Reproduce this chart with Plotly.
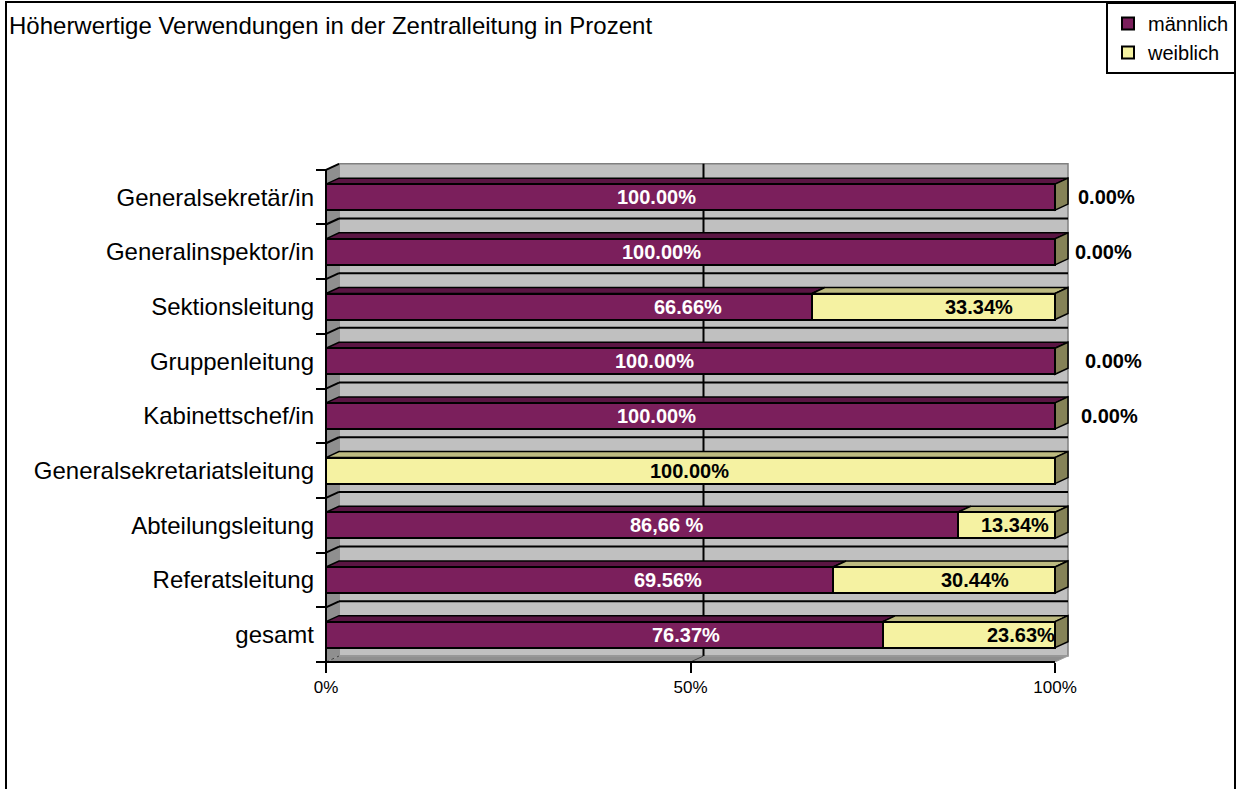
import plotly.graph_objects as go

# ---------------- data ----------------
categories = [
    "Generalsekretär/in",
    "Generalinspektor/in",
    "Sektionsleitung",
    "Gruppenleitung",
    "Kabinettschef/in",
    "Generalsekretariatsleitung",
    "Abteilungsleitung",
    "Referatsleitung",
    "gesamt",
]
maennlich = [100.00, 100.00, 66.66, 100.00, 100.00, 0.00, 86.66, 69.56, 76.37]
weiblich = [0.00, 0.00, 33.34, 0.00, 0.00, 100.00, 13.34, 30.44, 23.63]
male_labels = ["100.00%", "100.00%", "66.66%", "100.00%", "100.00%", "", "86,66 %", "69.56%", "76.37%"]
female_labels = ["0.00%", "0.00%", "33.34%", "0.00%", "0.00%", "100.00%", "13.34%", "30.44%", "23.63%"]
x_tick_values = [0, 50, 100]
x_tick_text = ["0%", "50%", "100%"]

# label anchor positions (percent axis), as placed in the original chart
male_label_pos = [45.4, 46.0, 49.7, 45.1, 45.4, None, 46.8, 46.9, 49.4]
female_label_pos = [107.1, 106.6, 89.6, 108.0, 107.5, 49.9, 94.5, 89.0, 95.3]

# ---------------- geometry / style ----------------
W, H = 1237, 789
PL, PR, PT, PB = 300, 1150, 150, 680   # plot area in pixels
X0 = 326          # pixel of 0 %
PX = 7.29         # pixels per percent
Y_FLOOR = 662     # pixel of front floor edge
PY = 54.69        # pixels per category
DX = 13 / PX      # depth offset (x) in data units
DY = 6 / PY       # depth offset (y) in data units
BAR_W = 26 / PY

FONT = "Liberation Sans, Arial, sans-serif"
MALE = "#7B1F5C"
MALE_TOP = "#5A1543"
FEMALE = "#F5F2A2"
FEMALE_TOP = "#BDBA80"
SIDE = "#858257"
WALL = "#C0C0C0"
SIDEWALL = "#8F8F8F"

n = len(categories)
ypos = [n - 1 - k for k in range(n)]
y_lo, y_hi = -0.5, n - 0.5
boundaries = [y_lo + i for i in range(n + 1)]
x_range = [(PL - X0) / PX, (PR - X0) / PX]
y_range = [(Y_FLOOR - PB) / PY - 0.5, (Y_FLOOR - PT) / PY - 0.5]

fig = go.Figure()
fig.add_trace(go.Bar(
    name="männlich", y=ypos, x=maennlich, orientation="h", width=BAR_W,
    marker=dict(color=MALE, line=dict(color="black", width=2)), hoverinfo="skip",
))
fig.add_trace(go.Bar(
    name="weiblich", y=ypos, x=weiblich, orientation="h", width=BAR_W,
    marker=dict(color=FEMALE, line=dict(color="black", width=2)), hoverinfo="skip",
))
fig.add_trace(go.Scatter(x=[0], y=[0], yaxis="y2", mode="markers",
                         marker=dict(opacity=0), showlegend=False, hoverinfo="skip"))

shapes = []


def poly(pts, fill, lc="black", lw=1.5):
    path = "M " + " L ".join(f"{x},{y}" for x, y in pts) + " Z"
    shapes.append(dict(type="path", path=path, xref="x", yref="y", fillcolor=fill,
                       line=dict(color=lc, width=lw), layer="below"))


def seg(x0, y0, x1, y1, lc="black", lw=2, dash="solid"):
    shapes.append(dict(type="line", x0=x0, y0=y0, x1=x1, y1=y1, xref="x", yref="y",
                       line=dict(color=lc, width=lw, dash=dash), layer="below"))


# walls and floor
poly([(DX, y_lo + DY), (100 + DX, y_lo + DY), (100 + DX, y_hi + DY), (DX, y_hi + DY)], WALL, "#808080", 1.5)
poly([(0, y_lo), (DX, y_lo + DY), (DX, y_hi + DY), (0, y_hi)], SIDEWALL, SIDEWALL, 1)
poly([(0, y_lo), (100, y_lo), (100 + DX, y_lo + DY), (DX, y_lo + DY)], SIDEWALL, "#A0A0A0", 1)

# gridlines on walls
for b in boundaries[1:-1]:
    seg(DX, b + DY, 100 + DX, b + DY)
    seg(0, b, DX, b + DY)
seg(0, y_hi, DX, y_hi + DY)
seg(0, y_lo, DX, y_lo + DY, "#404040", 1, "dot")
for v in x_tick_values[1:-1]:
    seg(v + DX, y_lo + DY, v + DX, y_hi + DY)
    seg(v, y_lo, v + DX, y_lo + DY, "#404040", 1)

# front axis lines
seg(0, y_lo, 0, y_hi)
seg(0, y_lo, 100, y_lo)

# 3D bar top faces and side faces
for k in range(n):
    y = ypos[k]
    top, bot = y + BAR_W / 2, y - BAR_W / 2
    m, f = maennlich[k], weiblich[k]
    if m > 0:
        poly([(0, top), (m, top), (m + DX, top + DY), (DX, top + DY)], MALE_TOP)
    if f > 0:
        poly([(m, top), (m + f, top), (m + f + DX, top + DY), (m + DX, top + DY)], FEMALE_TOP)
    end = m + f
    poly([(end, bot), (end, top), (end + DX, top + DY), (end + DX, bot + DY)], SIDE)

# outer frame
shapes.append(dict(type="rect", xref="paper", yref="paper",
                   x0=(6 - PL) / (PR - PL), x1=(1235 - PL) / (PR - PL),
                   y0=(PB - 2) / (PB - PT), y1=(PB - 830) / (PB - PT),
                   line=dict(color="black", width=2), fillcolor="rgba(0,0,0,0)", layer="above"))

annotations = []
for k in range(n):
    if male_labels[k]:
        annotations.append(dict(x=male_label_pos[k], y=ypos[k], xref="x", yref="y",
                                text=male_labels[k], showarrow=False,
                                font=dict(family=FONT, size=20, color="white", weight="bold")))
    if female_labels[k]:
        annotations.append(dict(x=female_label_pos[k], y=ypos[k], xref="x", yref="y",
                                text=female_labels[k], showarrow=False,
                                font=dict(family=FONT, size=20, color="black", weight="bold")))

fig.update_layout(
    width=W, height=H, autosize=False,
    margin=dict(l=PL, r=W - PR, t=PT, b=H - PB, pad=0, autoexpand=False),
    paper_bgcolor="white", plot_bgcolor="white",
    barmode="stack",
    font=dict(family=FONT, color="black"),
    title=dict(text="Höherwertige Verwendungen in der Zentralleitung in Prozent",
               font=dict(family=FONT, size=24, color="black"),
               x=9 / W, xref="container", xanchor="left",
               y=1 - 26 / H, yref="container", yanchor="middle"),
    xaxis=dict(range=x_range, tickvals=x_tick_values, ticktext=x_tick_text,
               ticks="outside", ticklen=10, tickwidth=2, tickcolor="black",
               showline=False, showgrid=False, zeroline=False,
               anchor="free", position=(PB - Y_FLOOR) / (PB - PT),
               tickfont=dict(family=FONT, size=17, color="black"), automargin=False,
               fixedrange=True),
    yaxis=dict(range=y_range, tickvals=ypos, ticktext=categories, ticks="",
               showline=False, showgrid=False, zeroline=False,
               anchor="free", position=(X0 - PL) / (PR - PL),
               tickfont=dict(family=FONT, size=24, color="black"),
               ticklabelstandoff=12, automargin=False, fixedrange=True),
    yaxis2=dict(range=y_range, overlaying="y", anchor="free", position=(X0 - PL) / (PR - PL),
                side="left", tickvals=boundaries, ticks="outside", ticklen=10, tickwidth=2,
                tickcolor="black", showticklabels=False, showgrid=False, zeroline=False,
                showline=False, automargin=False, fixedrange=True),
    legend=dict(xref="container", yref="container",
                x=1236 / W, y=1 - 2 / H, xanchor="right", yanchor="top",
                bordercolor="black", borderwidth=2, bgcolor="white", traceorder="normal",
                font=dict(family=FONT, size=20, color="black"), itemwidth=30),
    shapes=shapes,
    annotations=annotations,
    showlegend=True,
)

fig.write_html(
    "out.html",
    config={"displayModeBar": False},
    post_script=(
        "document.body.style.margin='0px';"
        "document.body.style.padding='0px';"
        "document.body.style.overflow='hidden';"
        "document.documentElement.style.overflow='hidden';"
    ),
)
